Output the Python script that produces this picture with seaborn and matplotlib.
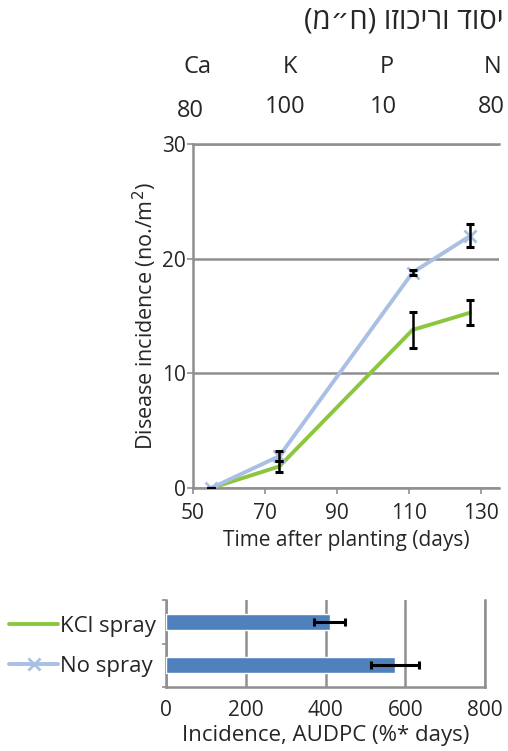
import numpy as np
import pandas as pd
import matplotlib
matplotlib.use("Agg")
import matplotlib.pyplot as plt
import seaborn as sns

# Disease progress over time (plants per m^2)
days = [55, 74, 111, 127]
kcl_spray = [0.0, 1.9, 13.8, 15.3]
kcl_err = [0.0, 0.5, 1.6, 1.1]
no_spray = [0.0, 2.8, 18.8, 22.0]
no_spray_err = [0.0, 0.4, 0.2, 1.0]

# Area under disease progress curve
treatments = ["KCl spray", "No spray"]
audpc = [410, 575]
audpc_err = [38, 60]

# Fertilizer elements and concentrations (ppm)
elements = ["Ca", "K", "P", "N"]
concentrations = ["80", "100", "10", "80"]
header = "(מ״ח) וזוכירו דוסי"

GREEN = "#8cc63f"
LIGHT_BLUE = "#a9bfe3"
BAR_BLUE = "#4f81bd"
GRID = "#8f8f8f"
TEXT = "#262626"

sns.set_theme(style="white")
plt.rcParams["font.family"] = ["Open Sans", "DejaVu Sans"]
plt.rcParams["text.color"] = TEXT
plt.rcParams["axes.labelcolor"] = TEXT
plt.rcParams["xtick.color"] = TEXT
plt.rcParams["ytick.color"] = TEXT

fig = plt.figure(figsize=(5.08, 7.51), dpi=100)

# ---- header block ----
fig.text(0.992, 0.972, header, ha="right", va="center", fontsize=21,
         family=["Open Sans", "DejaVu Sans"])
elem_x = [0.388, 0.570, 0.762, 0.970]
num_x = [0.374, 0.561, 0.754, 0.968]
num_y = [0.852, 0.858, 0.858, 0.858]
for x, e in zip(elem_x, elements):
    fig.text(x, 0.911, e, ha="center", va="center", fontsize=17)
for x, y, n in zip(num_x, num_y, concentrations):
    fig.text(x, y, n, ha="center", va="center", fontsize=17)

# ---- disease progress line chart ----
ax1 = fig.add_axes([0.380, 0.350, 0.602, 0.458])
df = pd.DataFrame({"day": days, "KCl spray": kcl_spray, "No spray": no_spray})
sns.lineplot(data=df, x="day", y="KCl spray", color=GREEN, lw=2.8,
             label="KCl spray", ax=ax1, zorder=3)
sns.lineplot(data=df, x="day", y="No spray", color=LIGHT_BLUE, lw=2.8,
             marker="x", markersize=8, markeredgewidth=2,
             markeredgecolor=LIGHT_BLUE, label="No spray", ax=ax1, zorder=3)
ax1.errorbar(days, kcl_spray, yerr=kcl_err, fmt="none", ecolor="black",
             elinewidth=1.8, capsize=3, capthick=2.2, zorder=4)
ax1.errorbar(days, no_spray, yerr=no_spray_err, fmt="none", ecolor="black",
             elinewidth=1.8, capsize=3, capthick=2.2, zorder=4)

ax1.set_xlim(50, 135)
ax1.set_ylim(0, 30)
ax1.set_xticks([50, 70, 90, 110, 130])
ax1.set_yticks([0, 10, 20, 30])
ax1.yaxis.grid(True, color=GRID, lw=1.8)
ax1.set_axisbelow(True)
for side in ["left", "bottom", "top"]:
    ax1.spines[side].set_visible(True)
    ax1.spines[side].set_color(GRID)
    ax1.spines[side].set_linewidth(1.8)
ax1.spines["right"].set_visible(False)
ax1.tick_params(axis="both", which="major", labelsize=15, length=4,
                color=GRID, width=1.2, direction="out")
ax1.tick_params(axis="x", pad=7)
ax1.tick_params(axis="y", pad=1)
ax1.tick_params(left=True, bottom=True)
ax1.set_xlabel("Time after planting (days)", fontsize=15, labelpad=4)
ax1.set_ylabel("Disease incidence (no./m$^2$)", fontsize=15.5, labelpad=2)
handles, labels = ax1.get_legend_handles_labels()
ax1.get_legend().remove()

# ---- AUDPC bar chart ----
ax2 = fig.add_axes([0.327, 0.085, 0.628, 0.116])
bar_df = pd.DataFrame({"treatment": treatments, "audpc": audpc})
sns.barplot(data=bar_df, x="audpc", y="treatment", orient="h",
            color=BAR_BLUE, saturation=1, width=0.37, ax=ax2, zorder=3)
ax2.errorbar(audpc, [0, 1], xerr=audpc_err, fmt="none", ecolor="black",
             elinewidth=2.2, capsize=3, capthick=2.2, zorder=4)
ax2.set_xlim(0, 800)
ax2.set_ylim(1.5, -0.5)
ax2.set_xticks([0, 200, 400, 600, 800])
ax2.set_yticks([-0.5, 0.5, 1.5])
ax2.set_yticklabels([])
ax2.xaxis.grid(True, color=GRID, lw=1.8)
ax2.set_axisbelow(True)
for side in ["left", "bottom", "right"]:
    ax2.spines[side].set_visible(True)
    ax2.spines[side].set_color(GRID)
    ax2.spines[side].set_linewidth(1.8)
ax2.spines["top"].set_visible(False)
ax2.tick_params(axis="x", labelsize=15, length=0, pad=9)
ax2.tick_params(axis="y", length=3, color=GRID, width=1.2, left=True)
ax2.set_xlabel("Incidence, AUDPC (%* days)", fontsize=16, labelpad=3)
ax2.set_ylabel("")

fig.legend(handles, labels, loc="center left", bbox_to_anchor=(0.018, 0.139),
           frameon=False, fontsize=16, handlelength=2.2, handletextpad=0.1,
           labelspacing=0.85, numpoints=1, borderpad=0, borderaxespad=0)

fig.savefig("out.png", dpi=100)
